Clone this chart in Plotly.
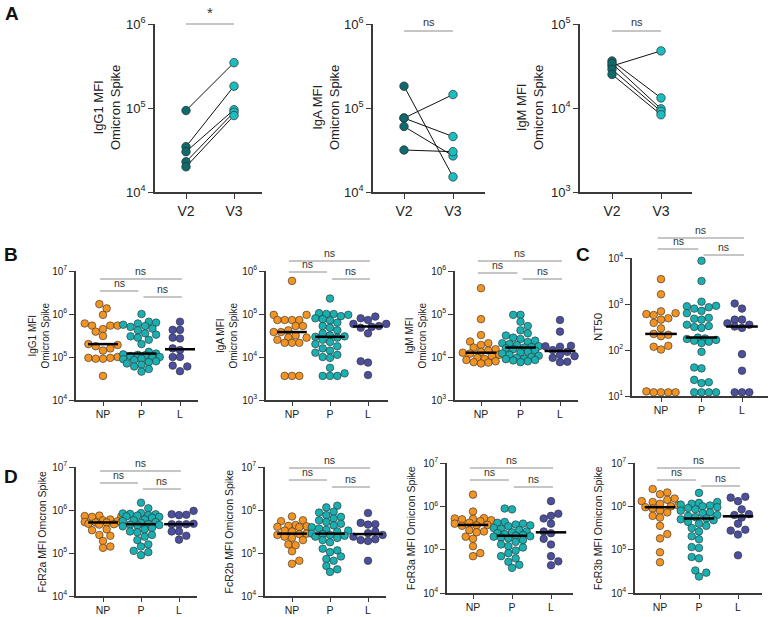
import plotly.graph_objects as go
from statistics import median

W, H = 771, 617
FONT = "Liberation Sans, Arial, sans-serif"

# ---------------- data: log10 values ----------------
VISITS = ["V2", "V3"]
GROUPS = ["NP", "P", "L"]

# Panel A (paired V2 -> V3), log10 MFI
A_IGG1_V2 = [4.97, 4.54, 4.48, 4.36, 4.30]
A_IGG1_V3 = [5.54, 5.26, 4.98, 4.95, 4.91]
A_IGA_V2 = [5.26, 4.88, 4.88, 4.78, 4.50]
A_IGA_V3 = [4.18, 5.16, 4.66, 4.43, 4.48]
A_IGM_V2 = [4.50, 4.56, 4.53, 4.46, 4.40]
A_IGM_V3 = [4.68, 4.12, 3.99, 3.96, 3.92]

# Panel B, log10 MFI
B_IGG1_NP = [6.23, 6.13, 5.98, 5.78, 5.73, 5.73, 5.73, 5.65, 5.59, 5.49, 5.30, 5.28, 5.25, 5.20, 5.15, 5.00, 4.98, 4.98, 4.96, 4.96, 4.56]
B_IGG1_P = [6.00, 5.82, 5.80, 5.78, 5.75, 5.72, 5.70, 5.66, 5.62, 5.55, 5.52, 5.48, 5.45, 5.40, 5.30, 5.12, 5.08, 5.06, 5.05, 5.04, 5.02, 5.00, 4.98, 4.96, 4.95, 4.93, 4.90, 4.88, 4.85, 4.82, 4.78, 4.72, 4.66]
B_IGG1_L = [5.82, 5.63, 5.63, 5.45, 5.43, 5.20, 5.16, 5.00, 5.00, 4.80, 4.78, 4.67]

B_IGA_NP = [5.77, 4.98, 4.98, 4.86, 4.86, 4.86, 4.86, 4.72, 4.72, 4.62, 4.58, 4.58, 4.50, 4.45, 4.45, 4.40, 4.33, 4.33, 4.33, 3.56, 3.56, 3.56]
B_IGA_P = [5.36, 5.02, 5.00, 5.00, 4.98, 4.95, 4.90, 4.88, 4.85, 4.80, 4.72, 4.68, 4.62, 4.55, 4.50, 4.48, 4.47, 4.45, 4.40, 4.35, 4.30, 4.25, 4.20, 4.15, 4.10, 4.05, 4.00, 3.98, 3.75, 3.62, 3.56, 3.56, 3.56]
B_IGA_L = [4.94, 4.90, 4.86, 4.77, 4.77, 4.72, 4.70, 4.68, 4.55, 3.90, 3.87, 3.58]

B_IGM_NP = [5.60, 4.88, 4.51, 4.36, 4.32, 4.28, 4.22, 4.18, 4.15, 4.12, 4.10, 4.08, 4.05, 4.02, 3.98, 3.95, 3.93, 3.90, 3.88, 3.87, 3.85]
B_IGM_P = [4.98, 4.98, 4.82, 4.72, 4.62, 4.55, 4.50, 4.45, 4.42, 4.38, 4.35, 4.32, 4.30, 4.28, 4.25, 4.23, 4.22, 4.20, 4.18, 4.15, 4.12, 4.10, 4.08, 4.05, 4.03, 4.00, 3.98, 3.96, 3.95, 3.93, 3.92, 3.90, 3.88]
B_IGM_L = [4.86, 4.59, 4.26, 4.25, 4.24, 4.16, 4.12, 4.05, 4.02, 3.98, 3.89, 3.88]

# Panel C, log10 NT50
C_NT50_NP = [3.54, 3.21, 2.84, 2.80, 2.78, 2.76, 2.69, 2.66, 2.59, 2.47, 2.35, 2.33, 2.30, 2.09, 2.07, 2.01, 1.10, 1.08, 1.08, 1.08, 1.08]
C_NT50_P = [3.94, 3.50, 3.05, 2.96, 2.95, 2.93, 2.90, 2.85, 2.80, 2.70, 2.68, 2.66, 2.55, 2.52, 2.50, 2.48, 2.27, 2.25, 2.24, 2.22, 2.20, 2.18, 2.15, 1.96, 1.62, 1.60, 1.35, 1.30, 1.28, 1.08, 1.08, 1.08, 1.08]
C_NT50_L = [3.01, 2.90, 2.66, 2.66, 2.58, 2.55, 2.51, 2.48, 1.91, 1.55, 1.08, 1.08, 1.08]

# Panel D, log10 MFI
D_FCR2A_NP = [5.87, 5.86, 5.85, 5.84, 5.78, 5.76, 5.74, 5.72, 5.71, 5.71, 5.71, 5.68, 5.67, 5.66, 5.55, 5.53, 5.42, 5.40, 5.28, 5.15, 5.12]
D_FCR2A_P = [6.17, 6.04, 5.93, 5.92, 5.91, 5.90, 5.88, 5.87, 5.85, 5.84, 5.82, 5.78, 5.76, 5.74, 5.72, 5.70, 5.67, 5.66, 5.65, 5.64, 5.62, 5.58, 5.55, 5.50, 5.48, 5.42, 5.38, 5.30, 5.20, 5.15, 5.05, 5.02, 4.95]
D_FCR2A_L = [5.98, 5.90, 5.89, 5.88, 5.68, 5.67, 5.67, 5.66, 5.50, 5.50, 5.40, 5.31]

D_FCR2B_NP = [5.85, 5.76, 5.74, 5.65, 5.63, 5.62, 5.61, 5.60, 5.52, 5.50, 5.45, 5.44, 5.42, 5.38, 5.35, 5.30, 5.20, 5.18, 5.04, 4.82, 4.75]
D_FCR2B_P = [6.10, 6.06, 5.96, 5.94, 5.88, 5.84, 5.80, 5.76, 5.72, 5.68, 5.64, 5.60, 5.57, 5.54, 5.52, 5.50, 5.45, 5.44, 5.42, 5.40, 5.38, 5.35, 5.30, 5.25, 5.10, 5.06, 5.02, 4.92, 4.86, 4.82, 4.70, 4.62, 4.56]
D_FCR2B_L = [5.93, 5.70, 5.67, 5.66, 5.50, 5.46, 5.42, 5.38, 5.32, 5.30, 5.28, 4.82]

D_FCR3A_NP = [6.27, 5.88, 5.73, 5.72, 5.71, 5.70, 5.68, 5.66, 5.62, 5.60, 5.57, 5.56, 5.55, 5.45, 5.42, 5.40, 5.30, 5.25, 5.08, 4.92, 4.85]
D_FCR3A_P = [5.95, 5.93, 5.64, 5.62, 5.60, 5.58, 5.56, 5.54, 5.50, 5.48, 5.45, 5.42, 5.40, 5.38, 5.36, 5.34, 5.32, 5.31, 5.30, 5.28, 5.26, 5.22, 5.18, 5.12, 5.08, 5.05, 4.98, 4.92, 4.85, 4.80, 4.72, 4.65, 4.58]
D_FCR3A_L = [6.12, 5.83, 5.78, 5.72, 5.60, 5.42, 5.38, 5.25, 5.12, 4.85, 4.73, 4.64]

D_FCR3B_NP = [6.40, 6.32, 6.28, 6.18, 6.15, 6.12, 6.10, 6.06, 6.02, 6.00, 5.98, 5.95, 5.90, 5.86, 5.78, 5.74, 5.55, 5.36, 5.26, 4.94, 4.71]
D_FCR3B_P = [6.31, 6.10, 6.08, 6.06, 6.04, 6.02, 6.00, 5.98, 5.96, 5.93, 5.90, 5.86, 5.84, 5.80, 5.78, 5.75, 5.72, 5.70, 5.68, 5.64, 5.60, 5.55, 5.50, 5.42, 5.31, 5.24, 5.06, 5.04, 4.83, 4.80, 4.52, 4.47, 4.38]
D_FCR3B_L = [6.22, 6.20, 6.12, 5.93, 5.82, 5.80, 5.74, 5.60, 5.46, 5.44, 5.35, 4.87]

# ---------------- styles ----------------
GROUP_COLORS = ["#F39322", "#1AAFB0", "#4B4F9E"]
VISIT_COLORS = ["#0E6B6D", "#1CBDBF"]
EDGE = "#2b2b2b"
AXIS_C = "#3a3a3a"
BAR_C = "#8c8c8c"
TXT_C = "#222222"


def px(x):
    return x / W


def py(y):
    return 1 - y / H


# subplot geometry in pixels: L,R (x-axis extent), T,B (y-axis extent), c0 first category px, s spacing
panels_A = [
    dict(L=155, R=262, T=24, B=192, c0=186, s=48, yr=(4, 6), v2=A_IGG1_V2, v3=A_IGG1_V3,
         title="IgG1 MFI<br>Omicron Spike", tx=107, bar=24, sig="*"),
    dict(L=373, R=485, T=24, B=192, c0=404, s=49, yr=(4, 6), v2=A_IGA_V2, v3=A_IGA_V3,
         title="IgA MFI<br>Omicron Spike", tx=326, bar=31, sig="ns"),
    dict(L=580, R=692, T=24, B=192, c0=612, s=49, yr=(3, 5), v2=A_IGM_V2, v3=A_IGM_V3,
         title="IgM MFI<br>Omicron Spike", tx=530, bar=31, sig="ns"),
]

panels_G = [
    dict(L=76, R=198, T=271, B=400, c0=103, s=38.5, yr=(4, 7), data=[B_IGG1_NP, B_IGG1_P, B_IGG1_L],
         title="IgG1 MFI<br>Omicron Spike", tx=38, bars=(279, 291, 297)),
    dict(L=266, R=388, T=271, B=400, c0=292, s=38, yr=(3, 6), data=[B_IGA_NP, B_IGA_P, B_IGA_L],
         title="IgA MFI<br>Omicron Spike", tx=226, bars=(261, 272, 279)),
    dict(L=455, R=578, T=271, B=400, c0=481, s=39.5, yr=(3, 6), data=[B_IGM_NP, B_IGM_P, B_IGM_L],
         title="IgM MFI<br>Omicron Spike", tx=415, bars=(261, 273, 279)),
    dict(L=632, R=768, T=258, B=396, c0=661, s=40.5, yr=(1, 4), data=[C_NT50_NP, C_NT50_P, C_NT50_L],
         title="NT50", tx=598, bars=(238, 249, 255)),
    dict(L=76, R=197, T=467, B=596, c0=103, s=38, yr=(4, 7), data=[D_FCR2A_NP, D_FCR2A_P, D_FCR2A_L],
         title="FcR2a MFI Omcron Spike", tx=41, bars=(471, 483, 489)),
    dict(L=265, R=386, T=467, B=596, c0=292, s=38, yr=(4, 7), data=[D_FCR2B_NP, D_FCR2B_P, D_FCR2B_L],
         title="FcR2b MFI Omicron Spike", tx=228, bars=(468, 480, 487)),
    dict(L=447, R=573, T=463, B=593, c0=473, s=39, yr=(4, 7), data=[D_FCR3A_NP, D_FCR3A_P, D_FCR3A_L],
         title="FcR3a MFI Omicron Spike", tx=411, bars=(468, 480, 487)),
    dict(L=635, R=762, T=463, B=593, c0=660, s=39, yr=(4, 7), data=[D_FCR3B_NP, D_FCR3B_P, D_FCR3B_L],
         title="FcR3b MFI Omicron Spike", tx=598, bars=(468, 480, 486)),
]


def swarm(logs, ppd, ppu, d=7.3):
    order = sorted(range(len(logs)), key=lambda i: logs[i])
    cands = []
    for k in range(0, 6):
        for sgn in ((1,) if k == 0 else (-1, 1)):
            cands.append(sgn * k * d / 2)
    placed = []
    offs = [0.0] * len(logs)
    flip = 1
    for i in order:
        y = logs[i] * ppd
        best, bestgap = 0.0, -1
        for c in cands:
            c = c * flip
            gap = min([((c - a) ** 2 + (y - b) ** 2) ** 0.5 for a, b in placed] or [1e9])
            if gap >= d * 0.93:
                best = c
                break
            if gap > bestgap:
                bestgap, best = gap, c
        flip = -flip
        placed.append((best, y))
        offs[i] = best / ppu
    return offs


fig = go.Figure()
layout = dict(width=W, height=H, margin=dict(l=0, r=0, t=0, b=0, autoexpand=False), paper_bgcolor="white",
              plot_bgcolor="white", showlegend=False, font=dict(family=FONT, color=TXT_C))
shapes, annos = [], []
n = 0


def add_axes(idx, p, cats, tickfont, catfont, xticklen):
    xr = [(p["L"] - p["c0"]) / p["s"], (p["R"] - p["c0"]) / p["s"]]
    lo, hi = p["yr"]
    layout[f"xaxis{idx}"] = dict(domain=[px(p["L"]), px(p["R"])], anchor=f"y{idx}", range=xr,
                                 automargin=False,
                                 showgrid=False, zeroline=False, showline=True, linecolor=AXIS_C,
                                 linewidth=1.5, ticks="outside", ticklen=xticklen, tickwidth=1.2,
                                 tickcolor=AXIS_C, tickvals=list(range(len(cats))), ticktext=cats,
                                 tickfont=dict(size=catfont, family=FONT, color=TXT_C), fixedrange=True)
    layout[f"yaxis{idx}"] = dict(domain=[py(p["B"]), py(p["T"])], anchor=f"x{idx}", type="log",
                                 automargin=False,
                                 range=[lo, hi], showgrid=False, zeroline=False, showline=True,
                                 linecolor=AXIS_C, linewidth=1.5, ticks="outside", ticklen=5,
                                 tickwidth=1.2, tickcolor=AXIS_C,
                                 tickvals=[10 ** k for k in range(lo, hi + 1)],
                                 ticktext=[f"10<sup>{k}</sup>" for k in range(lo, hi + 1)],
                                 tickfont=dict(size=tickfont, family=FONT, color=TXT_C), fixedrange=True)


def center_anno(x, y, text, size, angle=0, color=TXT_C):
    return dict(xref="paper", yref="paper", x=px(x), y=py(y), text=text, textangle=angle,
                showarrow=False, xanchor="center", yanchor="middle", font=dict(size=size, color=color))


# ---- Panel A ----
for p in panels_A:
    n += 1
    add_axes(n, p, VISITS, 13, 14, 5)
    xs, ys = [], []
    for a, b in zip(p["v2"], p["v3"]):
        xs += [0, 1, None]
        ys += [10 ** a, 10 ** b, None]
    fig.add_trace(go.Scatter(x=xs, y=ys, mode="lines", line=dict(color="#111", width=1),
                             xaxis=f"x{n}", yaxis=f"y{n}", hoverinfo="skip"))
    for vi, vals in enumerate([p["v2"], p["v3"]]):
        fig.add_trace(go.Scatter(x=[vi] * len(vals), y=[10 ** v for v in vals], mode="markers",
                                 marker=dict(color=VISIT_COLORS[vi], size=8.5, line=dict(color=EDGE, width=0.7)),
                                 xaxis=f"x{n}", yaxis=f"y{n}", cliponaxis=False))
    shapes.append(dict(type="line", xref=f"x{n}", yref="paper", x0=0, x1=1, y0=py(p["bar"]), y1=py(p["bar"]),
                       line=dict(color=BAR_C, width=1)))
    annos.append(dict(xref=f"x{n}", yref="paper", x=0.5, y=py(p["bar"] - 1), text=p["sig"], showarrow=False,
                      xanchor="center", yanchor="bottom",
                      font=dict(size=15 if p["sig"] == "*" else 11, color="#333")))
    annos.append(center_anno(p["tx"], (p["T"] + p["B"]) / 2, p["title"], 13, -90))

# ---- Panels B, C, D ----
for p in panels_G:
    n += 1
    add_axes(n, p, GROUPS, 10, 10.5, 4)
    ppd = (p["B"] - p["T"]) / (p["yr"][1] - p["yr"][0])
    for g, vals in enumerate(p["data"]):
        offs = swarm(vals, ppd, p["s"])
        fig.add_trace(go.Scatter(x=[g + o for o in offs], y=[10 ** v for v in vals], mode="markers",
                                 marker=dict(color=GROUP_COLORS[g], size=7.6, line=dict(color=EDGE, width=0.6)),
                                 xaxis=f"x{n}", yaxis=f"y{n}", cliponaxis=False))
    for g, vals in enumerate(p["data"]):
        m = 10 ** median(vals)
        fig.add_trace(go.Scatter(x=[g - 0.39, g + 0.39], y=[m, m], mode="lines",
                                 line=dict(color="black", width=2.5), xaxis=f"x{n}", yaxis=f"y{n}",
                                 cliponaxis=False, hoverinfo="skip"))
    yt, yl, yrr = p["bars"]
    for (x0, x1, yy) in [(-0.08, 2.05, yt), (-0.08, 0.92, yl), (1.05, 2.05, yrr)]:
        shapes.append(dict(type="line", xref=f"x{n}", yref="paper", x0=x0, x1=x1, y0=py(yy), y1=py(yy),
                           line=dict(color=BAR_C, width=1)))
        annos.append(dict(xref=f"x{n}", yref="paper", x=(x0 + x1) / 2, y=py(yy - 0.5), text="ns",
                          showarrow=False, xanchor="center", yanchor="bottom",
                          font=dict(size=10.5, color="#333")))
    fs = 10 if "<br>" in p["title"] else (10.5 if "Fc" in p["title"] else 11.5)
    annos.append(center_anno(p["tx"], (p["T"] + p["B"]) / 2, p["title"], fs, -90))

# panel letters
for letter, (lx, ly) in {"A": (12, 13), "B": (11, 254), "C": (583, 254), "D": (11, 476)}.items():
    annos.append(center_anno(lx, ly, f"<b>{letter}</b>", 19, 0, "#111"))

layout["shapes"] = shapes
layout["annotations"] = annos
fig.update_layout(**layout)
fig.write_html("out.html", config={"displayModeBar": False},
               post_script="document.body.style.margin='0px';document.body.style.padding='0px';")
